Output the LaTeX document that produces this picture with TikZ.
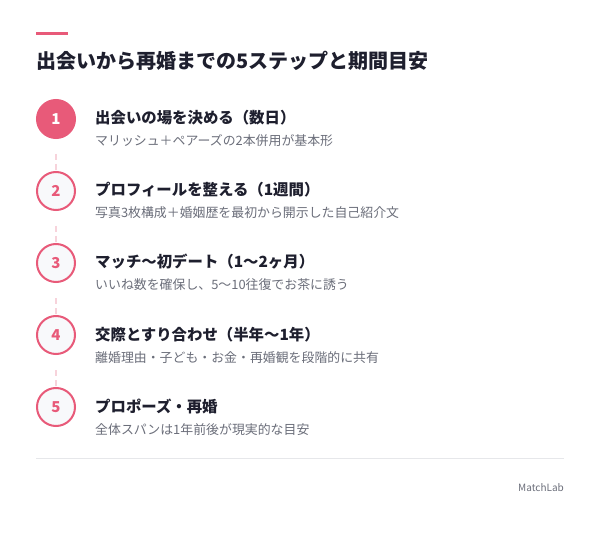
\documentclass[tikz,border=0pt]{standalone}
\usepackage{fontspec}
\setmainfont{Noto Sans CJK JP}
\usetikzlibrary{calc}
\definecolor{accent}{HTML}{E85A79}
\definecolor{dashc}{HTML}{F7D3DB}
\definecolor{circfill}{HTML}{F8F9FB}
\definecolor{titlec}{HTML}{1E1F2E}
\definecolor{subc}{HTML}{6B6E7A}
\definecolor{rulec}{HTML}{E6E7EA}
\begin{document}
\begin{tikzpicture}[x=1pt,y=-1pt,
  head/.style={anchor=base west, inner sep=0, font=\fontsize{15.4}{18}\selectfont\bfseries, text=titlec},
  sub/.style={anchor=base west, inner sep=0, font=\fontsize{12.9}{16}\selectfont, text=subc},
  stepcirc/.style={circle, minimum size=38pt, inner sep=0, draw=accent, line width=2pt, fill=circfill, text=accent, font=\fontsize{15}{18}\selectfont\bfseries},
  firstcirc/.style={stepcirc, fill=accent, text=white},
  conn/.style={draw=dashc, line width=2pt, dash pattern=on 6pt off 4pt}]
\useasboundingbox (0,0) rectangle (600,540);
\fill[white] (0,0) rectangle (600,540);
\fill[accent] (36,32) rectangle (68,35);
\node[anchor=base west, inner sep=0, font=\fontsize{20}{24}\selectfont\bfseries, text=titlec] (title) at (36,69) {出会いから再婚までの5ステップと期間目安};
% steps
\node[firstcirc] (c1) at (56,119) {1};
\node[stepcirc] (c2) at (56,191) {2};
\node[stepcirc] (c3) at (56,263) {3};
\node[stepcirc] (c4) at (56,335) {4};
\node[stepcirc] (c5) at (56,407) {5};
\node[head] (h1) at (95,124) {出会いの場を決める（数日）};
\node[sub]  (s1) at (95,146) {マリッシュ＋ペアーズの2本併用が基本形};
\node[head] (h2) at (95,196) {プロフィールを整える（1週間）};
\node[sub]  (s2) at (95,218) {写真3枚構成＋婚姻歴を最初から開示した自己紹介文};
\node[head] (h3) at (95,268) {マッチ〜初デート（1〜2ヶ月）};
\node[sub]  (s3) at (95,290) {いいね数を確保し、5〜10往復でお茶に誘う};
\node[head] (h4) at (95,340) {交際とすり合わせ（半年〜1年）};
\node[sub]  (s4) at (95,362) {離婚理由・子ども・お金・再婚観を段階的に共有};
\node[head] (h5) at (95,412) {プロポーズ・再婚};
\node[sub]  (s5) at (95,434) {全体スパンは1年前後が現実的な目安};
\foreach \a/\b in {c1/c2,c2/c3,c3/c4,c4/c5}{
  \draw[conn] ($(\a.south)+(0,15)$) -- (\b.north);
}
\draw[rulec, line width=1pt] (36,458) -- (564,458);
\node[anchor=base east, inner sep=0, font=\fontsize{10}{12}\selectfont, text=subc] (brand) at (564,491) {MatchLab};
\end{tikzpicture}
\end{document}
